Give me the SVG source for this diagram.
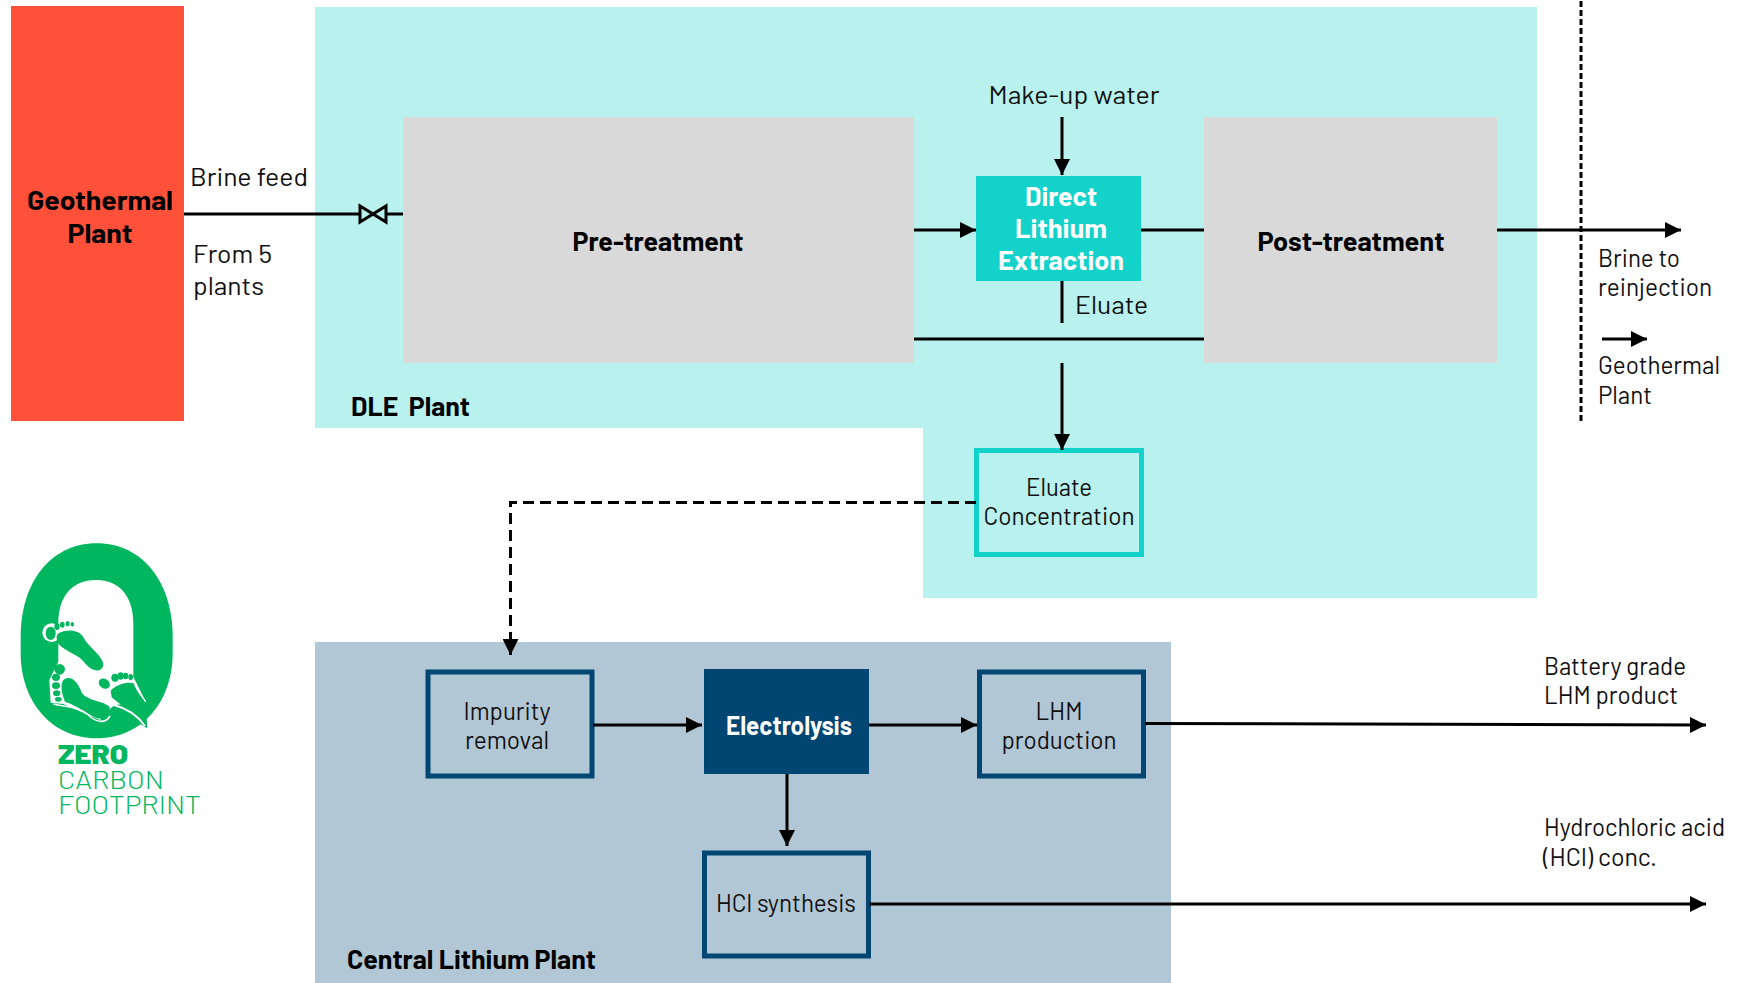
<svg xmlns="http://www.w3.org/2000/svg" width="1752" height="983" viewBox="0 0 1752 983">
<defs>
<marker id="ah" markerUnits="userSpaceOnUse" markerWidth="16" markerHeight="16" refX="16" refY="8" orient="auto"><path d="M0 0L16 8L0 16Z" fill="#000"/></marker>
</defs>
<style>
text{font-family:"Barlow","Roboto","Liberation Sans",sans-serif;font-size:25.5px;fill:#111;white-space:pre}
.c{text-anchor:middle}
.b{font-weight:700;fill:#000;font-size:27px}
.w{font-weight:700;fill:#fff;font-size:27px}
.l{fill:none;stroke:#000;stroke-width:3}
.gl{fill:#00b65e}
.wt{fill:#fff}
.lt{fill:#00b65e;font-size:26px;font-weight:300}
.box{fill:none;stroke:#004673;stroke-width:5}
</style>
<rect width="1752" height="983" fill="#fff"/>
<g id="dle-plant"><path d="M315 7H1537V598H923V428H315Z" fill="#b8f1ee"/><text class="b" x="351" y="416" textLength="119" lengthAdjust="spacingAndGlyphs">DLE  Plant</text></g>
<g id="central-lithium-plant"><rect x="315" y="642" width="856" height="341" fill="#b2c7d5"/><text class="b" x="347" y="969" textLength="249" lengthAdjust="spacingAndGlyphs">Central Lithium Plant</text></g>
<g id="geothermal-plant"><rect x="11" y="6" width="173" height="415" fill="#ff513a"/><text class="b c" x="100" y="210" textLength="146" lengthAdjust="spacingAndGlyphs">Geothermal</text><text class="b c" x="100" y="243" textLength="65" lengthAdjust="spacingAndGlyphs">Plant</text></g>
<g id="pre-treatment"><rect x="403" y="117" width="511" height="246" fill="#d9d9d9"/><text class="b c" x="658" y="251" textLength="171" lengthAdjust="spacingAndGlyphs">Pre-treatment</text></g>
<g id="post-treatment"><rect x="1204" y="117" width="293" height="246" fill="#d9d9d9"/><text class="b c" x="1351" y="251" textLength="187" lengthAdjust="spacingAndGlyphs">Post-treatment</text></g>
<g id="dle"><rect x="976" y="176" width="165" height="105" fill="#12d2c9"/><text class="w c" x="1061" y="206" textLength="72" lengthAdjust="spacingAndGlyphs">Direct</text><text class="w c" x="1061" y="238" textLength="92" lengthAdjust="spacingAndGlyphs">Lithium</text><text class="w c" x="1061" y="270" textLength="126" lengthAdjust="spacingAndGlyphs">Extraction</text></g>
<g id="eluate-concentration"><rect x="976.5" y="450.5" width="165" height="104" fill="none" stroke="#12d2c9" stroke-width="5"/><text class="c" x="1059" y="496" textLength="66" lengthAdjust="spacingAndGlyphs">Eluate</text><text class="c" x="1059" y="525" textLength="151" lengthAdjust="spacingAndGlyphs">Concentration</text></g>
<g id="impurity-removal"><rect class="box" x="428" y="672" width="164" height="104"/><text class="c" x="507" y="720" textLength="87" lengthAdjust="spacingAndGlyphs">Impurity</text><text class="c" x="507" y="749" textLength="84" lengthAdjust="spacingAndGlyphs">removal</text></g>
<g id="electrolysis"><rect x="704" y="669" width="165" height="105" fill="#004673"/><text class="w c" x="789" y="735" textLength="126" lengthAdjust="spacingAndGlyphs">Electrolysis</text></g>
<g id="lhm-production"><rect class="box" x="979.5" y="672" width="164" height="104"/><text class="c" x="1059" y="720" textLength="47" lengthAdjust="spacingAndGlyphs">LHM</text><text class="c" x="1059" y="749" textLength="115" lengthAdjust="spacingAndGlyphs">production</text></g>
<g id="hcl-synthesis"><rect class="box" x="704.500" y="853" width="164" height="103"/><text class="c" x="786" y="912" textLength="140" lengthAdjust="spacingAndGlyphs">HCl synthesis</text></g>
<g id="connectors">
<path class="l" d="M184 214H359"/><path class="l" d="M387 214H403"/>
<path d="M360 206V222L386 206V222Z" fill="none" stroke="#000" stroke-width="3"/>
<path class="l" marker-end="url(#ah)" d="M914 230H976"/>
<path class="l" marker-end="url(#ah)" d="M1062 117V175"/>
<path class="l" d="M1141 230H1204"/>
<path class="l" d="M1062 281V323"/>
<path class="l" d="M914 339H1204"/>
<path class="l" marker-end="url(#ah)" d="M1062 363V450"/>
<path class="l" marker-end="url(#ah)" d="M1497 230H1681"/>
<path class="l" d="M1581 1V422" stroke-dasharray="6 3"/>
<path class="l" marker-end="url(#ah)" d="M1602 339H1647"/>
<path class="l" stroke-dasharray="11 6" marker-end="url(#ah)" d="M976 502.500H510.500V655"/>
<path class="l" marker-end="url(#ah)" d="M593 725H702"/>
<path class="l" marker-end="url(#ah)" d="M869 725H977"/>
<path class="l" marker-end="url(#ah)" d="M1145 723.500L1706 725"/>
<path class="l" marker-end="url(#ah)" d="M787 774V846"/>
<path class="l" marker-end="url(#ah)" d="M869 904H1706"/>
</g>
<g id="labels">
<text x="190" y="186" textLength="118" lengthAdjust="spacingAndGlyphs">Brine feed</text><text x="193" y="263" textLength="79" lengthAdjust="spacingAndGlyphs">From 5</text><text x="193" y="295" textLength="71" lengthAdjust="spacingAndGlyphs">plants</text>
<text class="c" x="1074" y="104" textLength="171" lengthAdjust="spacingAndGlyphs">Make-up water</text><text x="1075" y="314" textLength="73" lengthAdjust="spacingAndGlyphs">Eluate</text>
<text x="1598" y="267" textLength="82" lengthAdjust="spacingAndGlyphs">Brine to</text><text x="1598" y="296" textLength="114" lengthAdjust="spacingAndGlyphs">reinjection</text><text x="1598" y="374" textLength="122" lengthAdjust="spacingAndGlyphs">Geothermal</text><text x="1598" y="404" textLength="54" lengthAdjust="spacingAndGlyphs">Plant</text>
<text x="1544" y="675" textLength="142" lengthAdjust="spacingAndGlyphs">Battery grade</text><text x="1544" y="704" textLength="134" lengthAdjust="spacingAndGlyphs">LHM product</text>
<text x="1544" y="836" textLength="181" lengthAdjust="spacingAndGlyphs">Hydrochloric acid</text><text x="1543" y="866" textLength="114" lengthAdjust="spacingAndGlyphs">(HCl) conc.</text>
</g>
<g id="logo">
<g transform="translate(0,520) scale(0.33333)">
<path class="gl" d="M290 70C430 70 518 190 518 350V400C518 540 430 655 290 655C150 655 62 540 62 400V350C62 190 150 70 290 70Z"/>
<path class="wt" d="M175 310C175 230 215 180 288 180C360 180 400 230 400 310L400 470L437 545L345 555L325 570L300 600L190 552L152 548L148 480L175 425Z"/>
<ellipse class="wt" cx="155" cy="338" rx="28" ry="28"/>
<g class="gl">
<path d="M176 340C200 325 240 330 250 352C265 382 310 408 310 435C305 460 275 455 255 430C240 405 195 395 176 372C168 358 168 345 176 340Z"/>
<ellipse cx="152" cy="340" rx="15" ry="20"/>
<ellipse cx="171" cy="320" rx="8" ry="10"/><ellipse cx="187" cy="314" rx="7" ry="9"/><ellipse cx="203" cy="311" rx="6" ry="8"/><ellipse cx="217" cy="313" rx="5" ry="7"/>
<path d="M190 480C215 462 235 490 245 518C265 545 310 540 330 562C322 580 315 596 300 596C268 590 240 560 195 545C185 520 180 495 190 480Z"/>
<circle cx="179" cy="448" r="16"/><ellipse cx="168" cy="472" rx="12" ry="11"/><ellipse cx="168" cy="497" rx="12" ry="10"/><ellipse cx="170" cy="520" rx="11" ry="9"/><ellipse cx="175" cy="538" rx="10" ry="7"/>
<ellipse cx="313" cy="491" rx="18" ry="14" transform="rotate(35 313 491)"/><ellipse cx="345" cy="473" rx="11" ry="12"/><ellipse cx="362" cy="468" rx="9" ry="11"/><ellipse cx="377" cy="468" rx="8" ry="10"/><ellipse cx="392" cy="471" rx="7" ry="9"/>
<path d="M332 512C350 492 385 485 402 490C410 515 425 530 437 548L442 625L420 612C400 575 360 555 335 532Z"/>
</g>
<path d="M402 488C408 510 425 525 437 545" fill="none" stroke="#fff" stroke-width="4"/>
<path d="M342 555C380 565 412 585 435 618" fill="none" stroke="#fff" stroke-width="6"/>
<path d="M160 552C205 562 240 562 265 585C290 610 318 610 330 588" fill="none" stroke="#fff" stroke-width="5"/>
</g>
<text x="58" y="764" class="lt" style="font-weight:900;font-size:26px" textLength="70" lengthAdjust="spacingAndGlyphs">ZERO</text>
<text x="58" y="789" class="lt" textLength="106" lengthAdjust="spacingAndGlyphs">CARBON</text>
<text x="58" y="814" class="lt" textLength="143" lengthAdjust="spacingAndGlyphs">FOOTPRINT</text>
</g>
</svg>
